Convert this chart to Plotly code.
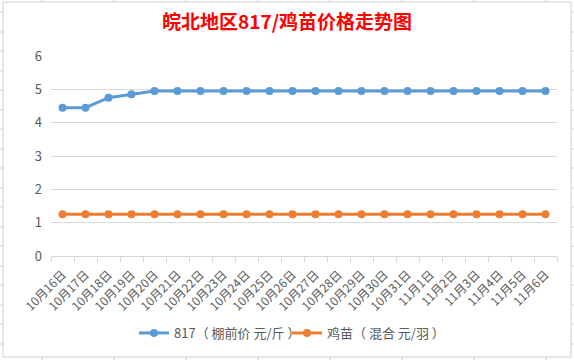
import plotly.graph_objects as go

dates = ["10月16日", "10月17日", "10月18日", "10月19日", "10月20日", "10月21日",
         "10月22日", "10月23日", "10月24日", "10月25日", "10月26日", "10月27日",
         "10月28日", "10月29日", "10月30日", "10月31日", "11月1日", "11月2日",
         "11月3日", "11月4日", "11月5日", "11月6日"]
price_817 = [4.45, 4.45, 4.75, 4.85, 4.95, 4.95, 4.95, 4.95, 4.95, 4.95, 4.95,
             4.95, 4.95, 4.95, 4.95, 4.95, 4.95, 4.95, 4.95, 4.95, 4.95, 4.95]
price_chick = [1.25] * 22
name_817 = "817（ 棚前价 元/斤 ）"
name_chick = "鸡苗（ 混合 元/羽 ）"
title = "皖北地区817/鸡苗价格走势图"

font_family = "Noto Sans CJK SC, Noto Sans, sans-serif"
grey = "#595959"

W, H = 574, 360
L, R, T, B = 51, 17, 56, 104
PW, PH = W - L - R, H - T - B


def px(x):
    return (x - L) / PW


def py(y):
    return (H - B - y) / PH


fig = go.Figure()
fig.add_trace(go.Scatter(x=dates, y=price_817, name=name_817, mode="lines+markers",
                         line=dict(color="#5B9BD5", width=3),
                         marker=dict(color="#5B9BD5", size=8)))
fig.add_trace(go.Scatter(x=dates, y=price_chick, name=name_chick, mode="lines+markers",
                         line=dict(color="#ED7D31", width=3),
                         marker=dict(color="#ED7D31", size=8)))

frame = "#d0d0d0"
shapes = [dict(type="rect", xref="paper", yref="paper", layer="above",
               x0=px(3), x1=px(571), y0=py(357), y1=py(2),
               line=dict(color=frame, width=1))]
# spreadsheet cell-line stubs around the chart frame
for sx in [42, 114, 186, 258, 330, 402, 474, 546]:
    shapes.append(dict(type="line", xref="paper", yref="paper",
                       x0=px(sx), x1=px(sx), y0=py(0), y1=py(2),
                       line=dict(color=frame, width=1)))
    shapes.append(dict(type="line", xref="paper", yref="paper",
                       x0=px(sx), x1=px(sx), y0=py(357), y1=py(360),
                       line=dict(color=frame, width=1)))
for sy in [12, 32, 51, 71, 90, 110, 129, 149, 168, 188, 207, 227, 246, 266,
           285, 305, 324, 344]:
    shapes.append(dict(type="line", xref="paper", yref="paper",
                       x0=px(0), x1=px(3), y0=py(sy), y1=py(sy),
                       line=dict(color=frame, width=1)))
    shapes.append(dict(type="line", xref="paper", yref="paper",
                       x0=px(571), x1=px(574), y0=py(sy), y1=py(sy),
                       line=dict(color=frame, width=1)))

fig.update_layout(
    width=W, height=H,
    margin=dict(l=L, r=R, t=T, b=B),
    paper_bgcolor="white", plot_bgcolor="white",
    font=dict(family=font_family, color=grey, size=12),
    title=dict(text="<b>" + title + "</b>", x=0.5, xref="container", xanchor="center",
               y=1 - 22 / H, yref="container", yanchor="middle",
               font=dict(size=19, color="#FF0000", family=font_family)),
    showlegend=True,
    legend=dict(orientation="h", xref="container", x=0.5, xanchor="center",
                yref="container", y=1 - 333 / H, yanchor="middle",
                font=dict(size=13, color=grey), itemwidth=30,
                entrywidth=108, entrywidthmode="pixels"),
    xaxis=dict(type="category", tickangle=-45, tickfont=dict(size=12, color=grey),
               showgrid=False, showline=True, linecolor="#d9d9d9", linewidth=1,
               ticks="outside", tickson="boundaries", ticklen=5, tickcolor="#d9d9d9",
               ticklabelstandoff=6,
               range=[-0.5, len(dates) - 0.5], automargin=False),
    yaxis=dict(range=[0, 6], dtick=1, showgrid=True, gridcolor="#d9d9d9", gridwidth=1,
               zeroline=False, showline=False, tickfont=dict(size=13, color=grey),
               ticklabelstandoff=8, automargin=False),
    shapes=shapes,
)

fig.write_html("out.html", config={"displayModeBar": False},
               post_script="document.body.style.margin='0';")
